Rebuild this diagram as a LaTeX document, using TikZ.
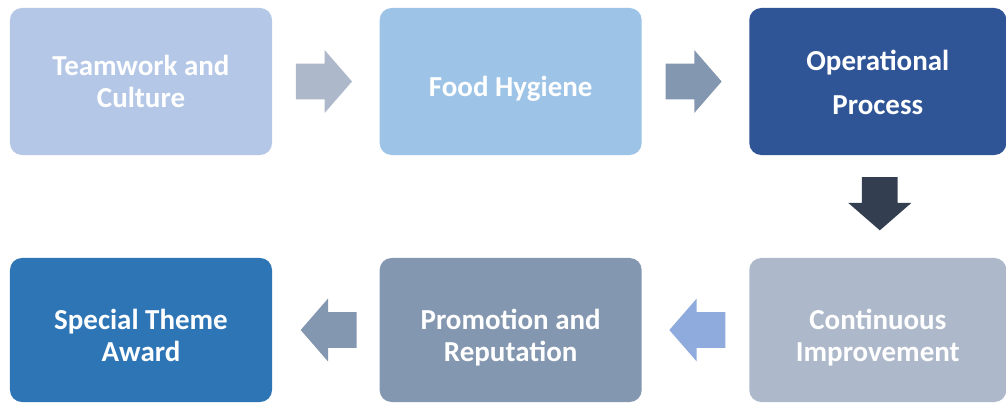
\documentclass[tikz,border=0pt]{standalone}
\usepackage{fontspec}
\setmainfont{Carlito}
\usetikzlibrary{positioning,shapes.arrows,calc}

\definecolor{boxteam}{HTML}{B4C7E7}
\definecolor{boxfood}{HTML}{9DC3E6}
\definecolor{boxoper}{HTML}{2F5597}
\definecolor{boxcont}{HTML}{ADB9CA}
\definecolor{boxpromo}{HTML}{8497B0}
\definecolor{boxaward}{HTML}{2E75B6}
\definecolor{arrdark}{HTML}{333F50}
\definecolor{arrlight}{HTML}{8FAADC}

\newcommand\upstrut[1]{\rule{0pt}{#1}}
\newcommand\downstrut{\rule[-6pt]{0pt}{6pt}}

\tikzset{
  stage/.style={rounded corners=0.3cm, minimum width=6.55cm, minimum height=3.675cm,
    inner sep=0pt, align=center, text=white,
    font=\fontsize{20.6}{22.7}\selectfont\bfseries},
  blockarrow/.style={single arrow, minimum height=1.4cm, minimum width=0pt,
    inner xsep=0pt, inner ysep=0.44cm, single arrow head extend=0.34cm,
    single arrow tip angle=98, anchor=tip},
}

\begin{document}
\begin{tikzpicture}[x=0.025cm,y=-0.025cm]
  \useasboundingbox (0,0) rectangle (1006,403);
  {
  % Drawing top row of stages
  \node [stage, fill=boxteam] (team) at (141,81.5) {\upstrut{20pt}Teamwork and\\Culture\downstrut};%
  \node [stage, fill=boxfood, right=2.675cm of team] (food) {\upstrut{27pt}Food Hygiene\downstrut};%
  \node [stage, fill=boxoper, right=2.675cm of food, minimum width=6.425cm] (oper)
    {\upstrut{21pt}Operational\\[0.3cm]Process\downstrut};%

  % Drawing bottom row of stages
  \node [stage, fill=boxaward, minimum height=3.6cm] (award) at (141,330)
    {\upstrut{28.5pt}Special Theme\\Award\downstrut};%
  \node [stage, fill=boxpromo, minimum height=3.6cm, right=2.675cm of award] (promo)
    {\upstrut{28.5pt}Promotion and\\Reputation\downstrut};%
  \node [stage, fill=boxcont, minimum height=3.6cm, right=2.675cm of promo, minimum width=6.425cm] (cont)
    {\upstrut{28.5pt}Continuous\\Improvement\downstrut};%

  % Drawing arrows between stages
  \node [blockarrow, fill=boxcont] (a1) at ($(food.west)+(-27,0)$) {};%
  \node [blockarrow, fill=boxpromo] (a2) at ($(oper.west)+(-27,0)$) {};%
  \node [blockarrow, fill=arrdark, rotate=-90, minimum height=1.33cm] (a3) at ($(cont.north)+(2,-27)$) {};%
  \node [blockarrow, fill=arrlight, rotate=180] (a4) at ($(promo.east)+(27,0)$) {};%
  \node [blockarrow, fill=boxpromo, rotate=180] (a5) at ($(award.east)+(28,0)$) {};%
  }
\end{tikzpicture}
\end{document}
